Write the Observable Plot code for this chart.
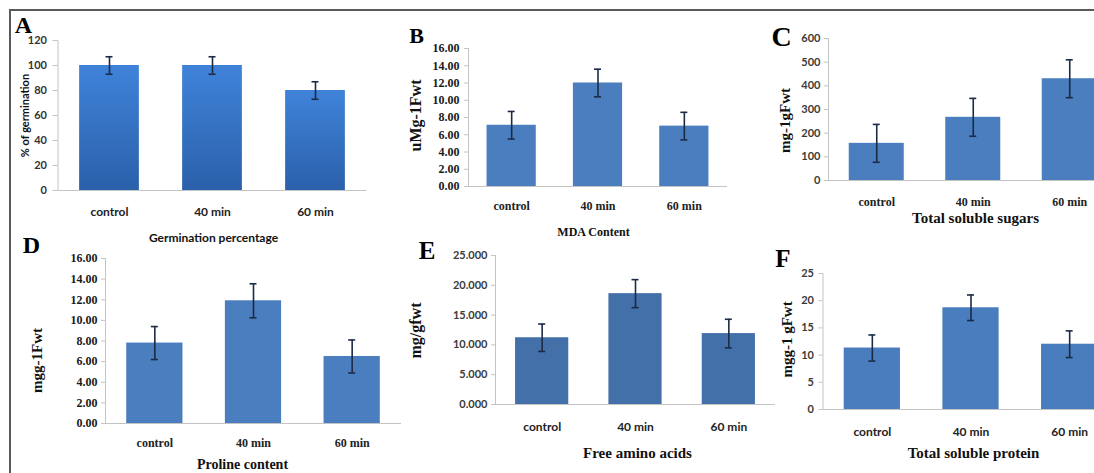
<!DOCTYPE html>
<html><head><meta charset="utf-8">
<script src="https://cdn.jsdelivr.net/npm/d3@7"></script>
<script src="https://cdn.jsdelivr.net/npm/@observablehq/plot@0.6"></script>
<style>
body{margin:0;background:#fff}
#wrap{position:relative;width:1094px;height:473px;overflow:hidden;background:#fff}
#wrap svg{position:absolute;left:0;top:0}
#border{position:absolute;left:9px;top:9px;width:1200px;height:600px;border-left:2px solid #5a5a5a;border-top:2px solid #5a5a5a}
</style></head><body><div id="wrap"><div id="border"></div></div>
<script>
// ---- data ----
const categories = ["control", "40 min", "60 min"];
const germination = [100, 100, 80];
const germinationErr = [7, 7, 7];
const mda = [7.1, 12.0, 7.0];
const mdaErr = [1.6, 1.6, 1.6];
const sugars = [157, 267, 430];
const sugarsErr = [80, 80, 80];
const proline = [7.8, 11.9, 6.5];
const prolineErr = [1.6, 1.65, 1.6];
const aminoAcids = [11.2, 18.6, 11.9];
const aminoAcidsErr = [2.3, 2.35, 2.4];
const protein = [11.3, 18.7, 12.0];
const proteinErr = [2.4, 2.35, 2.45];

const ticksA = [0, 20, 40, 60, 80, 100, 120];
const ticksB = [0, 2, 4, 6, 8, 10, 12, 14, 16];
const ticksC = [0, 100, 200, 300, 400, 500, 600];
const ticksD = [0, 2, 4, 6, 8, 10, 12, 14, 16];
const ticksE = [0, 5, 10, 15, 20, 25];
const ticksF = [0, 5, 10, 15, 20, 25];

// ---- layout / style ----
const SERIF = "'Liberation Serif','Times New Roman',serif";
const SANS = "Lato,'Open Sans',sans-serif";

const panels = [
  {letter:"A", values:germination, errors:germinationErr, ticks:ticksA, fmt:d=>String(d),
   yLabel:"% of germination", title:"Germination percentage",
   x0:57.5, x1:366.5, y0:190, y1:40, pad:0.42,
   fill:"url(#gradA)", gradient:{id:"gradA", top:"#3f83d9", bottom:"#2b60aa"},
   tickFont:SANS, tickSize:11, tickColor:"#333", tLen:5, tPad:6,
   xFont:SANS, xSize:12, xOff:22,
   letterPos:[23,25], letterSize:24,
   yLabFont:SANS, yLabSize:11, yLabPos:[25,115],
   titleFont:SANS, titleSize:12, titlePos:[213,238]},
  {letter:"B", values:mda, errors:mdaErr, ticks:ticksB, fmt:d=>d.toFixed(2),
   yLabel:"uMg-1Fwt", title:"MDA Content",
   x0:468, x1:727, y0:186, y1:48, pad:0.43, fill:"#4a7ebe",
   tickFont:SERIF, tickSize:12, tickColor:"#1a1a1a", tLen:4, tPad:5,
   xFont:SERIF, xSize:12, xOff:20,
   letterPos:[416,35.5], letterSize:22,
   yLabFont:SERIF, yLabSize:16, yLabPos:[415,115],
   titleFont:SERIF, titleSize:12, titlePos:[593,232]},
  {letter:"C", values:sugars, errors:sugarsErr, ticks:ticksC, fmt:d=>String(d),
   yLabel:"mg-1gFwt", title:"Total soluble sugars",
   x0:828, x1:1117.5, y0:180, y1:38, pad:0.43, fill:"#4a7ebe",
   tickFont:SANS, tickSize:11, tickColor:"#3a3a3a", tLen:4, tPad:4,
   xFont:SERIF, xSize:12, xOff:22,
   letterPos:[781,37], letterSize:28,
   yLabFont:SERIF, yLabSize:15, yLabPos:[785,120],
   titleFont:SERIF, titleSize:15, titlePos:[975,218]},
  {letter:"D", values:proline, errors:prolineErr, ticks:ticksD, fmt:d=>d.toFixed(2),
   yLabel:"mgg-1Fwt", title:"Proline content",
   x0:105, x1:401, y0:423, y1:258, pad:0.43, fill:"#4a7ebe",
   tickFont:SERIF, tickSize:12, tickColor:"#1a1a1a", tLen:4, tPad:4,
   xFont:SERIF, xSize:12, xOff:20,
   letterPos:[31,245], letterSize:24,
   yLabFont:SERIF, yLabSize:15, yLabPos:[37,360],
   titleFont:SERIF, titleSize:14, titlePos:[242,464]},
  {letter:"E", values:aminoAcids, errors:aminoAcidsErr, ticks:ticksE, fmt:d=>d.toFixed(3),
   yLabel:"mg/gfwt", title:"Free amino acids",
   x0:495, x1:775, y0:404, y1:255, pad:0.43, fill:"#4370a9",
   tickFont:SANS, tickSize:11, tickColor:"#3a3a3a", tLen:4, tPad:4,
   xFont:SANS, xSize:12, xOff:23,
   letterPos:[426.5,250.5], letterSize:25,
   yLabFont:SERIF, yLabSize:16, yLabPos:[415,330],
   titleFont:SERIF, titleSize:15, titlePos:[637,453]},
  {letter:"F", values:protein, errors:proteinErr, ticks:ticksF, fmt:d=>String(d),
   yLabel:"mgg-1 gFwt", title:"Total soluble protein",
   x0:822.5, x1:1118.5, y0:409, y1:273, pad:0.43, fill:"#4a7dbd",
   tickFont:SANS, tickSize:11, tickColor:"#3a3a3a", tLen:4, tPad:5,
   xFont:SANS, xSize:12, xOff:23,
   letterPos:[782.5,258.5], letterSize:25,
   yLabFont:SERIF, yLabSize:15, yLabPos:[787,339],
   titleFont:SERIF, titleSize:15, titlePos:[973,453]}
];

const W = 1140, H = 473;
const AXIS = "#c4c4c4", ERR = "#1c2b45";

function makePanel(p) {
  const rows = categories.map((c, i) => ({cat: c, v: p.values[i], e: p.errors[i]}));
  const step = (p.x1 - p.x0) / categories.length;
  const bw = step * (1 - p.pad);
  const capInset = (bw - 7) / 2;
  const yMax = p.ticks[p.ticks.length - 1];
  const midX = (p.x0 + p.x1) / 2, midY = (p.y0 + p.y1) / 2;
  const marks = [];
  if (p.gradient) {
    marks.push(() => {
      const defs = d3.create("svg:defs");
      const g = defs.append("linearGradient").attr("id", p.gradient.id)
        .attr("x1", 0).attr("y1", 0).attr("x2", 0).attr("y2", 1);
      g.append("stop").attr("offset", "0%").attr("stop-color", p.gradient.top);
      g.append("stop").attr("offset", "100%").attr("stop-color", p.gradient.bottom);
      return defs.node();
    });
  }
  marks.push(
    Plot.barY(rows, {x: "cat", y: "v", fill: p.fill}),
    Plot.ruleY([0], {stroke: AXIS, strokeWidth: 1}),
    Plot.ruleX([categories[0]], {x: d => d, y1: 0, y2: yMax, dx: -step / 2, stroke: AXIS, strokeWidth: 1}),
    Plot.axisY({ticks: p.ticks, tickFormat: p.fmt, tickSize: p.tLen, tickPadding: p.tPad,
      stroke: AXIS, fill: p.tickColor, fontFamily: p.tickFont, fontSize: p.tickSize,
      fontWeight: "bold", label: null}),
    Plot.ruleX(rows, {x: "cat", y1: d => d.v - d.e, y2: d => d.v + d.e, stroke: ERR, strokeWidth: 1.6}),
    Plot.tickY(rows, {x: "cat", y: d => d.v + d.e, stroke: ERR, strokeWidth: 1.6, insetLeft: capInset, insetRight: capInset}),
    Plot.tickY(rows, {x: "cat", y: d => d.v - d.e, stroke: ERR, strokeWidth: 1.6, insetLeft: capInset, insetRight: capInset}),
    Plot.text(rows, {x: "cat", y: () => 0, text: "cat", dy: p.xOff, lineAnchor: "middle",
      fontFamily: p.xFont, fontSize: p.xSize, fontWeight: "bold", fill: "#222"}),
    Plot.text([p.letter], {text: d => d, frameAnchor: "top-left", textAnchor: "middle", lineAnchor: "middle",
      dx: p.letterPos[0] - p.x0, dy: p.letterPos[1] - p.y1,
      fontFamily: SERIF, fontSize: p.letterSize, fontWeight: "bold", fill: "#000"}),
    Plot.text([p.yLabel], {text: d => d, frameAnchor: "left", rotate: -90, textAnchor: "middle", lineAnchor: "middle",
      dx: p.yLabPos[0] - p.x0, dy: p.yLabPos[1] - midY,
      fontFamily: p.yLabFont, fontSize: p.yLabSize, fontWeight: "bold", fill: "#111"}),
    Plot.text([p.title], {text: d => d, frameAnchor: "bottom", textAnchor: "middle", lineAnchor: "middle",
      dx: p.titlePos[0] - midX, dy: p.titlePos[1] - p.y0,
      fontFamily: p.titleFont, fontSize: p.titleSize, fontWeight: "bold", fill: "#111"})
  );
  return Plot.plot({
    width: W, height: H,
    marginLeft: p.x0, marginRight: W - p.x1, marginTop: p.y1, marginBottom: H - p.y0,
    x: {domain: categories, paddingInner: p.pad, paddingOuter: p.pad / 2, round: false, axis: null},
    y: {domain: [0, yMax], nice: false},
    style: {background: "transparent", maxWidth: "none", overflow: "visible"},
    marks
  });
}

const wrap = document.getElementById("wrap");
for (const p of panels) wrap.appendChild(makePanel(p));
</script>
</body></html>
